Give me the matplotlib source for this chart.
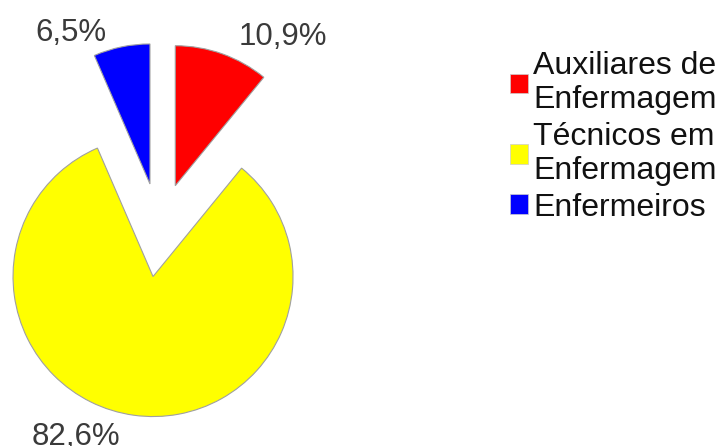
import matplotlib
matplotlib.use("Agg")
import matplotlib.pyplot as plt

categories = ["Auxiliares de\nEnfermagem", "Técnicos em\nEnfermagem", "Enfermeiros"]
values = [10.9, 82.6, 6.5]
pct_labels = ["10,9%", "82,6%", "6,5%"]
colors = ["#ff0000", "#ffff00", "#0000ff"]

plt.rcParams['font.family'] = ['Liberation Sans', 'DejaVu Sans']

W, H = 720, 446
R = 140.0  # pixels per data unit (pie radius)
fig = plt.figure(figsize=(W / 100, H / 100), dpi=100)
ax = fig.add_axes([0, 0, 1, 1])

cx, cy = 159.5 / R, (H - 230) / R
wedges, _ = ax.pie(values, colors=colors, startangle=90, counterclock=False,
                   explode=[47 / R] * 3, radius=1.0, center=(cx, cy),
                   wedgeprops=dict(edgecolor='#a0a0a0', linewidth=0.8),
                   frame=True)
ax.set_xlim(0, W / R)
ax.set_ylim(0, H / R)
ax.set_aspect('equal')
ax.axis('off')

fs = 22.5
# percentage labels (pixel positions: left x, baseline y)
label_pos = [(239, 45), (32, 445), (35, 41)]
for (px, py), txt in zip(label_pos, pct_labels):
    fig.text(px / W, 1 - py / H, txt, ha='left', va='baseline',
             fontsize=fs, color='#3a3a3a')

leg = ax.legend(wedges, categories, loc='upper left',
                bbox_to_anchor=(510 / W, 1 - 51 / H), bbox_transform=fig.transFigure,
                frameon=False, fontsize=23, handlelength=0.56, handleheight=0.56,
                handletextpad=0.16, labelspacing=0.2, borderpad=0, borderaxespad=0)
for t in leg.get_texts():
    t.set_color('#111111')
    t.set_linespacing(1.19)
for h in leg.legend_handles:
    h.set_edgecolor('#cccccc')
    h.set_linewidth(0.5)

fig.savefig("out.png", dpi=100)
